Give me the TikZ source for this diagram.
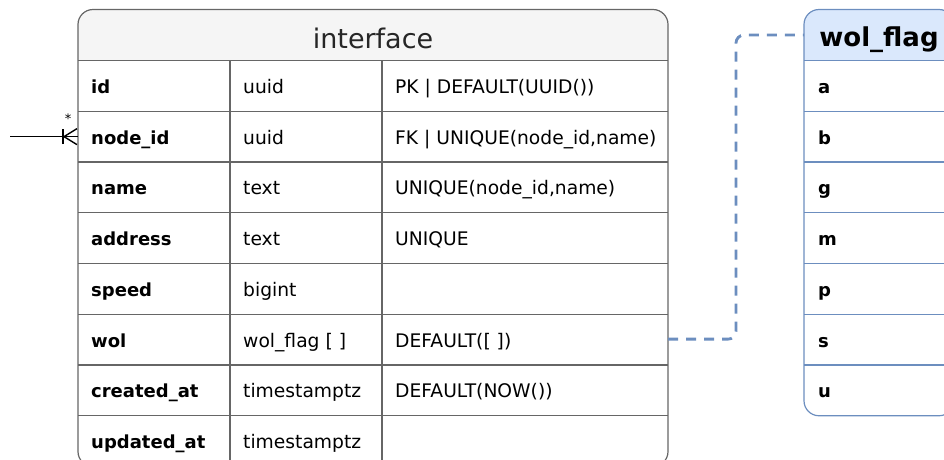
\documentclass[tikz,border=0pt]{standalone}
\usepackage{fontspec}
\setmainfont{DejaVu Sans}
\definecolor{igray}{HTML}{666666}
\definecolor{ifill}{HTML}{F5F5F5}
\definecolor{wblue}{HTML}{6C8EBF}
\definecolor{wfill}{HTML}{DAE8FC}
\begin{document}
\begin{tikzpicture}[x=1pt,y=-1pt,
  cell/.style={anchor=base west, inner sep=0pt, text=black, font=\fontsize{18.7}{21}\selectfont},
  keycell/.style={cell, font=\fontsize{18}{20}\selectfont\bfseries},
  rowbox/.style={minimum width=#1, minimum height=50.75pt, inner sep=0pt, outer sep=0pt},
  iline/.style={draw=igray, line width=1.2pt},
  wline/.style={draw=wblue, line width=1.2pt},
  reflink/.style={draw=wblue, line width=2.8pt, dash pattern=on 10pt off 8pt, rounded corners=8pt},
  fklink/.style={draw=black, line width=1.4pt},
]
\useasboundingbox (0,0) rectangle (944,459);
\clip (0,0) rectangle (944,459);

% ---------- table: interface ----------
\fill[white, rounded corners=15pt] (78,9.5) rectangle (668,466.5);
\begin{scope}
  \clip (78,9.5) rectangle (668,60.5);
  \fill[ifill, rounded corners=15pt] (78,9.5) rectangle (668,466.5);
\end{scope}
\foreach \k in {0,...,7} \draw[iline] (78,{60.5+\k*50.75}) -- (668,{60.5+\k*50.75});
\draw[iline] (230,60.5) -- (230,466.5);
\draw[iline] (382,60.5) -- (382,466.5);
\draw[iline, rounded corners=15pt] (78,9.5) rectangle (668,466.5);

\node[anchor=base, inner sep=0pt, font=\fontsize{27}{30}\selectfont, text=black!85] (iTitle) at (373,48) {interface};

% row anchors used by the connectors
\node[rowbox=590pt] (iRowNode) at (373,136.625) {};
\node[rowbox=590pt] (iRowWol) at (373,339.125) {};

% columns: name / type / constraint
\node[keycell] (n1) at (91,93.4) {id};
\node[cell] (t1) at (243,93.4) {uuid};
\node[cell] (c1) at (395,93.4) {PK | DEFAULT(UUID())};
\node[keycell] (n2) at (91,144.1) {node\_id};
\node[cell] (t2) at (243,144.1) {uuid};
\node[cell] (c2) at (395,144.1) {FK | UNIQUE(node\_id,name)};
\node[keycell] (n3) at (91,194.9) {name};
\node[cell] (t3) at (243,194.9) {text};
\node[cell] (c3) at (395,194.9) {UNIQUE(node\_id,name)};
\node[keycell] (n4) at (91,245.6) {address};
\node[cell] (t4) at (243,245.6) {text};
\node[cell] (c4) at (395,245.6) {UNIQUE};
\node[keycell] (n5) at (91,296.4) {speed};
\node[cell] (t5) at (243,296.4) {bigint};
\node[keycell] (n6) at (91,347.1) {wol};
\node[cell] (t6) at (243,347.1) {wol\_flag [ ]};
\node[cell] (c6) at (395,347.1) {DEFAULT([ ])};
\node[keycell] (n7) at (91,397.9) {created\_at};
\node[cell] (t7) at (243,397.9) {timestamptz};
\node[cell] (c7) at (395,397.9) {DEFAULT(NOW())};
\node[keycell] (n8) at (91,448.6) {updated\_at};
\node[cell] (t8) at (243,448.6) {timestamptz};

% ---------- table: wol_flag ----------
\fill[white, rounded corners=15pt] (804,9.5) rectangle (954,415.75);
\begin{scope}
  \clip (804,9.5) rectangle (954,60.5);
  \fill[wfill, rounded corners=15pt] (804,9.5) rectangle (954,415.75);
\end{scope}
\foreach \k in {0,...,6} \draw[wline] (804,{60.5+\k*50.75}) -- (954,{60.5+\k*50.75});
\draw[wline, rounded corners=15pt] (804,9.5) rectangle (954,415.75);

\node[minimum width=150pt, minimum height=51pt, inner sep=0pt, outer sep=0pt] (wHead) at (879,35) {};
\node[anchor=base, inner sep=0pt, font=\fontsize{26}{30}\selectfont\bfseries, text=black] (wTitle) at (879,46.7) {wol\_flag};

\node[keycell] (w1) at (818,93.4) {a};
\node[keycell] (w2) at (818,144.1) {b};
\node[keycell] (w3) at (818,194.9) {g};
\node[keycell] (w4) at (818,245.6) {m};
\node[keycell] (w5) at (818,296.4) {p};
\node[keycell] (w6) at (818,347.1) {s};
\node[keycell] (w7) at (818,397.9) {u};

% ---------- connectors ----------
\draw[reflink] (iRowWol.east) -- ++(68,0) |- (wHead.west);

\coordinate (fkEnd) at (10,136.625);
\draw[fklink] (fkEnd) -- (iRowNode.west);
\draw[fklink] ([xshift=-15pt,yshift=-7.5pt]iRowNode.west) -- ([xshift=-15pt,yshift=7.5pt]iRowNode.west);
\draw[fklink] ([xshift=-1pt,yshift=-8pt]iRowNode.west) -- ([xshift=-14pt]iRowNode.west) -- ([xshift=-1pt,yshift=8pt]iRowNode.west);
\node[inner sep=0pt, font=\fontsize{13}{14}\selectfont] (fkMult) at (68,119) {*};
\end{tikzpicture}
\end{document}
